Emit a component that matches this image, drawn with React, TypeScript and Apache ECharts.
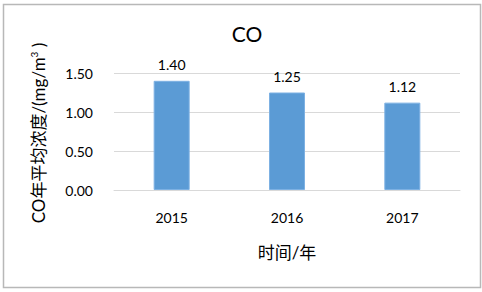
import React, { useEffect, useRef } from "react";
import * as echarts from "echarts";

const categories = ["2015", "2016", "2017"];
const values = [1.4, 1.25, 1.12];
const titleText = "CO";
const xName = "时间/年";

const FONT = "Lato, 'Noto Sans CJK SC', sans-serif";

export default function App() {
  const ref = useRef<HTMLDivElement>(null);
  useEffect(() => {
    const chart = echarts.init(ref.current!, null, { renderer: "svg" });
    chart.setOption({
      animation: false,
      backgroundColor: "#ffffff",
      title: {
        text: titleText,
        left: 242,
        top: 18,
        textAlign: "center",
        textStyle: { fontFamily: FONT, fontSize: 21, fontWeight: "normal", color: "#000" },
      },
      graphic: [
        {
          type: "rect",
          shape: { x: 3.5, y: 4.5, width: 477, height: 283 },
          style: { fill: "none", stroke: "#B8B8B8", lineWidth: 1.5 },
        },
        {
          type: "text",
          x: 38,
          y: 133,
          rotation: Math.PI / 2,
          style: {
            text: "CO年平均浓度/(mg/m{sup|3} )",
            align: "center",
            verticalAlign: "middle",
            fontFamily: FONT,
            fontSize: 17,
            fill: "#000",
            rich: {
              sup: { fontSize: 10, verticalAlign: "top", fontFamily: FONT, padding: [0, 0, 9, 0] },
            },
          },
        },
      ],
      grid: { left: 114, right: 22, top: 73, bottom: 102 },
      xAxis: {
        type: "category",
        data: categories,
        name: xName,
        nameLocation: "middle",
        nameGap: 54,
        nameTextStyle: { fontFamily: FONT, fontSize: 17, color: "#000" },
        axisLine: { lineStyle: { color: "#D9D9D9", width: 1 } },
        axisTick: { show: false },
        axisLabel: { fontFamily: FONT, fontSize: 14, color: "#000", margin: 20 },
      },
      yAxis: {
        type: "value",
        min: 0,
        max: 1.5,
        interval: 0.5,
        axisLine: { show: false },
        axisTick: { show: false },
        splitLine: { lineStyle: { color: "#D9D9D9", width: 1 } },
        axisLabel: {
          fontFamily: FONT,
          fontSize: 14,
          color: "#000",
          margin: 21,
          formatter: (v: number) => v.toFixed(2),
        },
      },
      series: [
        {
          type: "bar",
          data: values,
          barWidth: 36,
          itemStyle: { color: "#5B9BD5", borderColor: "#7DB1E3", borderWidth: 1 },
          label: {
            show: true,
            position: "top",
            distance: 9,
            fontFamily: FONT,
            fontSize: 14,
            color: "#000",
            formatter: (p: any) => Number(p.value).toFixed(2),
          },
        },
      ],
    });
    return () => chart.dispose();
  }, []);
  return (
    <div
      ref={ref}
      style={{ position: "absolute", left: 0, top: 0, width: 482, height: 292 }}
    />
  );
}
